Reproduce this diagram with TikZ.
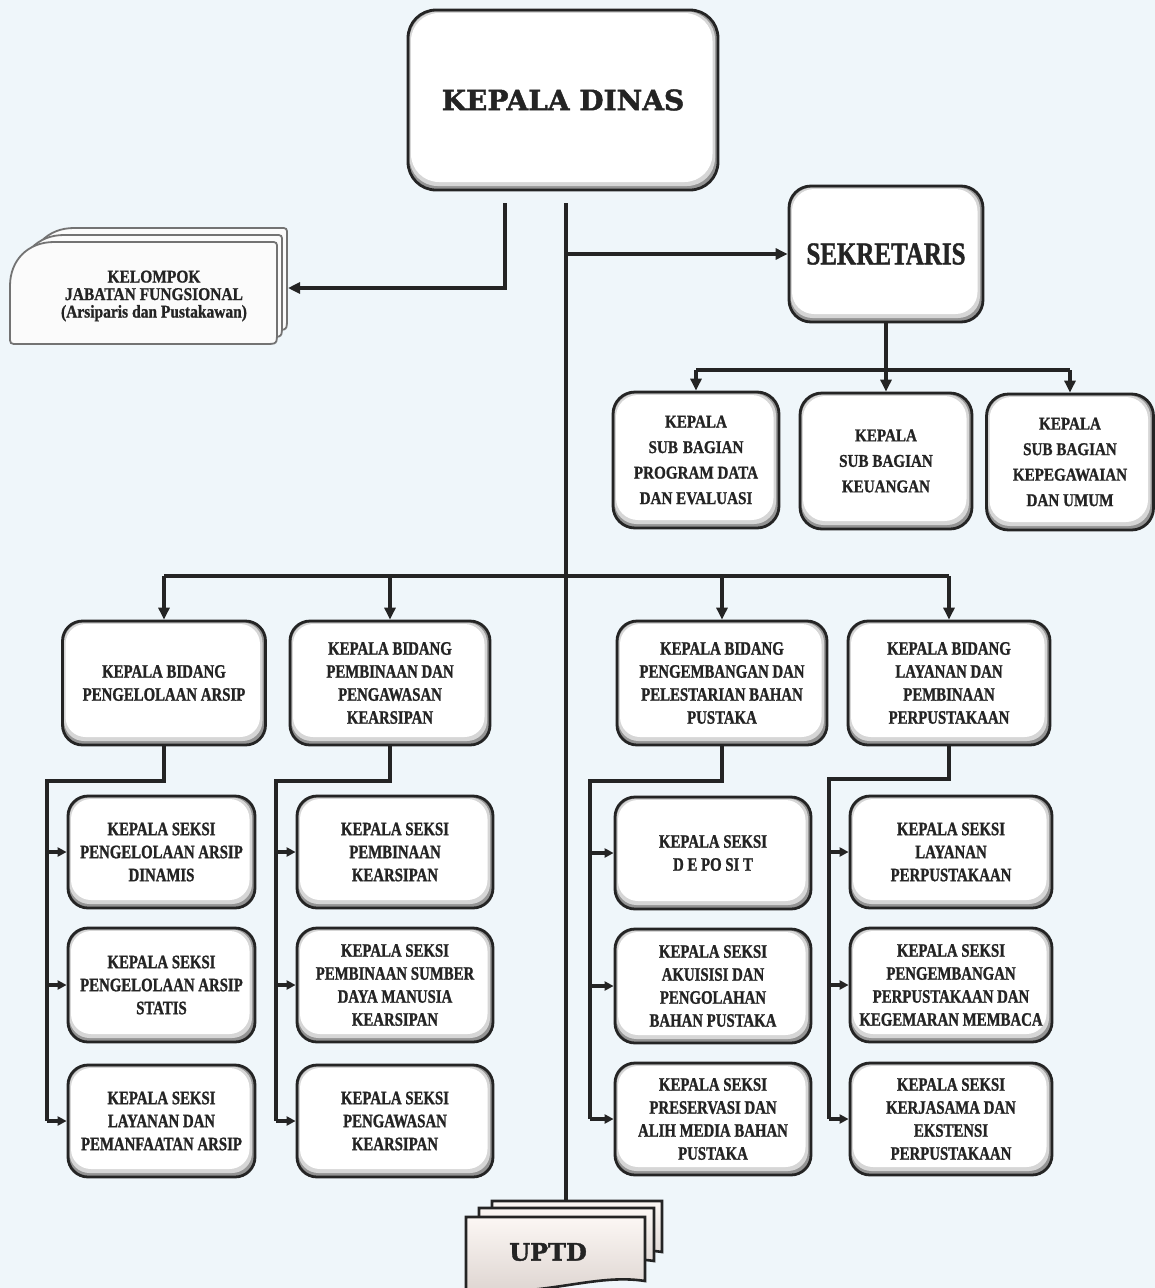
\documentclass[tikz,border=0pt]{standalone}
\usepackage{fontspec}
\setmainfont{Liberation Serif}
\newfontfamily\condfont{Liberation Serif}[FakeStretch=0.78, WordSpace=0.45, BoldFeatures={FakeBold=1.2}]
\newfontfamily\headfont{Liberation Serif}[FakeStretch=0.78, BoldFeatures={FakeBold=1.2}]
\newfontfamily\sbfont{Liberation Serif}[FakeStretch=0.84, BoldFeatures={FakeBold=1}]
\newfontfamily\kelfont{Liberation Serif}[FakeStretch=0.86, BoldFeatures={FakeBold=1}]
\newfontfamily\slabfont{DejaVu Serif}[BoldFeatures={FakeBold=1.6}]
\usetikzlibrary{arrows.meta,calc}

\definecolor{paper}{HTML}{EFF6FA}
\definecolor{ink}{HTML}{242424}
\definecolor{uptdtop}{HTML}{FCF7F4}
\definecolor{uptdbot}{HTML}{DCD3CF}

\tikzset{
  card/.style={draw=ink, line width=2.8pt, rounded corners=#1, fill=white,
    inner sep=0pt, align=center, text=ink,
    path picture={
      \fill[black!42] (path picture bounding box.north west) rectangle (path picture bounding box.south east);
      \fill[black!16, rounded corners=#1] ([shift={(1.5,1.5)}]path picture bounding box.north west)
        rectangle ([shift={(-3,-4)}]path picture bounding box.south east);
      \fill[white, rounded corners=#1] ([shift={(3,3)}]path picture bounding box.north west)
        rectangle ([shift={(-5.5,-8)}]path picture bounding box.south east);
    }},
  seksi/.style={card=20pt, font=\condfont\bfseries\fontsize{19}{23}\selectfont},
  bidang/.style={card=20pt, minimum height=124pt, font=\condfont\bfseries\fontsize{19}{23}\selectfont},
  subbag/.style={card=22pt, minimum height=136pt, font=\sbfont\bfseries\fontsize{18}{25.5}\selectfont},
  conn/.style={draw=ink, line width=3.4pt},
  arr/.style={conn, -{Triangle[length=12pt,width=11pt]}},
  sarr/.style={conn, -{Triangle[length=9pt,width=9pt]}},
  kelsty/.style={draw=black!55, line width=1.8pt, fill=white!97!gray},
  uptdsty/.style={draw=ink, line width=2.6pt, top color=uptdtop, middle color=uptdtop, bottom color=uptdbot},
}

% folder-like sheet of the functional group stack
\newcommand\kelsheet[4]{%
  \filldraw[kelsty] (#1,#4-8) -- (#1,#2+44) .. controls (#1,#2+18) and (#1+18,#2) .. (#1+44,#2)
    -- (#3-7,#2) .. controls (#3,#2) .. (#3,#2+7) -- (#3,#4-12)
    .. controls (#3,#4) .. (#3-12,#4) -- (#1+8,#4) .. controls (#1,#4) .. (#1,#4-8) -- cycle;}
% document sheet with a wavy lower edge
\newcommand\docsheet[4]{%
  \filldraw[uptdsty] (#1,#2) -- (#3,#2) -- (#3,#4-10)
    .. controls (#3-50,#4-18) and (#1+80,#4+6) .. (#1,#4) -- cycle;}

\begin{document}
\begin{tikzpicture}[x=1pt,y=-1pt]
\useasboundingbox (0,0) rectangle (1155,1288);
\fill[paper] (0,0) rectangle (1155,1288);

% ---- top level ----
\node[card=28pt, minimum width=310pt, minimum height=180pt,
      font=\slabfont\bfseries\fontsize{28}{32}\selectfont] (kd) at (563,100) {KEPALA DINAS};
\node[card=22pt, minimum width=194pt, minimum height=136pt,
      font=\headfont\bfseries\fontsize{32}{36}\selectfont] (sek) at (886,254) {SEKRETARIS};

% ---- functional group (stacked sheets) ----
\kelsheet{30}{228}{287}{330}
\kelsheet{20}{235}{282}{337}
\kelsheet{10}{242}{277}{344}
\node[align=center, text=ink, font=\kelfont\bfseries\fontsize{18}{17.5}\selectfont] (kel) at (154,296)
  {KELOMPOK\\JABATAN FUNGSIONAL\\(Arsiparis\hspace{4pt}dan Pustakawan)};
\coordinate (kelR) at (288,288);

% ---- sub bagian ----
\node[subbag, minimum width=166pt] (sb1) at (696,460) {KEPALA\\SUB\hspace{5pt}BAGIAN\\PROGRAM DATA\\DAN EVALUASI};
\node[subbag, minimum width=172pt] (sb2) at (886,461) {KEPALA\\SUB BAGIAN\\KEUANGAN};
\node[subbag, minimum width=167pt] (sb3) at (1070,462) {KEPALA\\SUB BAGIAN\\KEPEGAWAIAN\\DAN UMUM};

% ---- bidang ----
\node[bidang, minimum width=203pt] (b1) at (164,683) {KEPALA BIDANG\\PENGELOLAAN ARSIP};
\node[bidang, minimum width=200pt] (b2) at (390,683) {KEPALA BIDANG\\PEMBINAAN DAN\\PENGAWASAN\\KEARSIPAN};
\node[bidang, minimum width=210pt] (b3) at (722,683) {KEPALA BIDANG\\PENGEMBANGAN DAN\\PELESTARIAN BAHAN\\PUSTAKA};
\node[bidang, minimum width=202pt] (b4) at (949,683) {KEPALA BIDANG\\LAYANAN DAN\\PEMBINAAN\\PERPUSTAKAAN};

% ---- seksi, column 1 ----
\node[seksi, minimum width=187pt, minimum height=112pt] (s11) at (161.5,852) {KEPALA SEKSI\\PENGELOLAAN ARSIP\\DINAMIS};
\node[seksi, minimum width=187pt, minimum height=114pt] (s12) at (161.5,985) {KEPALA SEKSI\\PENGELOLAAN ARSIP\\STATIS};
\node[seksi, minimum width=187pt, minimum height=112pt] (s13) at (161.5,1121) {KEPALA SEKSI\\LAYANAN DAN\\PEMANFAATAN ARSIP};
% ---- seksi, column 2 ----
\node[seksi, minimum width=196pt, minimum height=112pt] (s21) at (395,852) {KEPALA SEKSI\\PEMBINAAN\\KEARSIPAN};
\node[seksi, minimum width=196pt, minimum height=114pt] (s22) at (395,985) {KEPALA SEKSI\\PEMBINAAN SUMBER\\DAYA MANUSIA\\KEARSIPAN};
\node[seksi, minimum width=196pt, minimum height=112pt] (s23) at (395,1121) {KEPALA SEKSI\\PENGAWASAN\\KEARSIPAN};
% ---- seksi, column 3 ----
\node[seksi, minimum width=196pt, minimum height=112pt] (s31) at (713,853) {KEPALA SEKSI\\D E PO SI T};
\node[seksi, minimum width=196pt, minimum height=114pt] (s32) at (713,986) {KEPALA SEKSI\\AKUISISI DAN\\PENGOLAHAN\\BAHAN PUSTAKA};
\node[seksi, minimum width=196pt, minimum height=112pt] (s33) at (713,1119) {KEPALA SEKSI\\PRESERVASI DAN\\ALIH MEDIA BAHAN\\PUSTAKA};
% ---- seksi, column 4 ----
\node[seksi, minimum width=202pt, minimum height=112pt] (s41) at (951,852) {KEPALA SEKSI\\LAYANAN\\PERPUSTAKAAN};
\node[seksi, minimum width=202pt, minimum height=114pt] (s42) at (951,985) {KEPALA SEKSI\\PENGEMBANGAN\\PERPUSTAKAAN DAN\\KEGEMARAN MEMBACA};
\node[seksi, minimum width=202pt, minimum height=112pt] (s43) at (951,1119) {KEPALA SEKSI\\KERJASAMA DAN\\EKSTENSI\\PERPUSTAKAAN};

% ---- UPTD (stacked sheets) ----
\docsheet{492}{1201}{662}{1262}
\docsheet{479}{1208}{654}{1271}
\docsheet{466}{1217}{645}{1291}
\node[text=ink, font=\slabfont\bfseries\fontsize{24}{28}\selectfont] (uptd) at (548,1252) {UPTD};
\coordinate (uptdTop) at (566,1201);

% ---- connectors ----
\coordinate (trunk) at (566,203);
\coordinate (kelDrop) at (505,203);
\draw[conn] (trunk) -- (uptdTop);
\draw[arr] (kelDrop) |- (kelR);
\draw[arr] (sek.west -| trunk) -- (sek.west);

\coordinate (sbBar) at (886,370);
\draw[conn] (sek.south) -- (sbBar);
\draw[conn] (sbBar -| sb1.north) -- (sbBar -| sb3.north);
\draw[arr] (sbBar) -- (sb2.north);
\draw[arr] (sbBar -| sb1.north) -- (sb1.north);
\draw[arr] (sbBar -| sb3.north) -- (sb3.north);

\coordinate (bBar) at (566,576);
\draw[conn] (bBar -| b1.north) -- (bBar -| b4.north);
\foreach \b in {b1,b2,b3,b4}
  \draw[arr] (bBar -| \b.north) -- (\b.north);

% bidang to seksi trunks
\coordinate (t1) at (47,781);
\coordinate (t2) at (276,781);
\coordinate (t3) at (590,781);
\coordinate (t4) at (829,779);
\draw[conn] (b1.south) |- (t1) -- (t1 |- s13.west);
\draw[conn] (b2.south) |- (t2) -- (t2 |- s23.west);
\draw[conn] (b3.south) |- (t3) -- (t3 |- s33.west);
\draw[conn] (b4.south) |- (t4) -- (t4 |- s43.west);
\foreach \c/\t in {1/t1,2/t2,3/t3,4/t4}
  \foreach \r in {1,2,3}
    \draw[sarr] (s\c\r.west -| \t) -- (s\c\r.west);
\end{tikzpicture}
\end{document}
